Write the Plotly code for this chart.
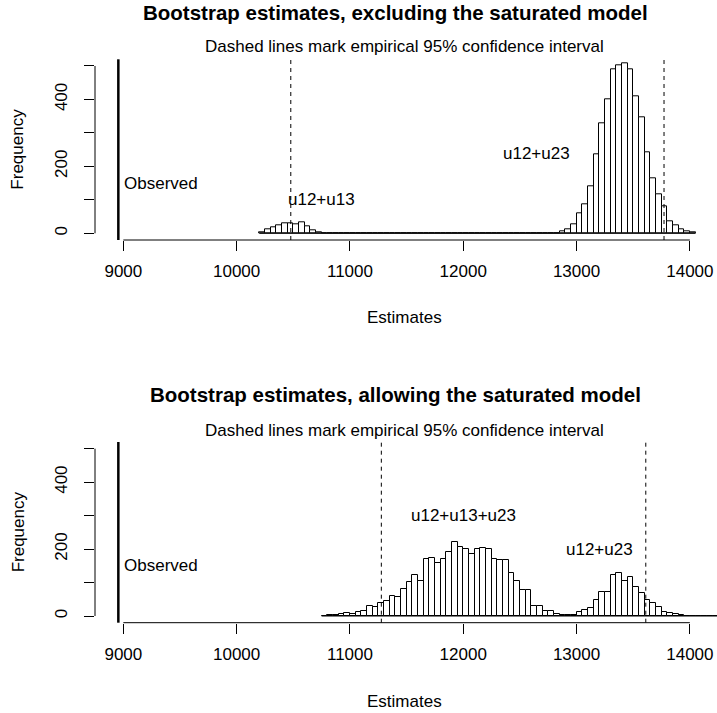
import plotly.graph_objects as go

W, H = 717, 713
BIN_WIDTH = 50

# Bootstrap counts per 50-unit bin, excluding the saturated model
excl_start = 10200
excl_counts = [
    4, 11, 18, 25, 29, 31, 28, 34, 21, 9, 3,
    0, 0, 0, 0, 0, 0, 0, 0, 0, 0, 0, 0, 0, 0, 0, 0, 0, 0, 0, 0, 0,
    0, 0, 0, 0, 0, 0, 0, 0, 0, 0, 0, 0, 0, 0, 0, 0, 0, 0, 0, 0, 0,
    7, 13, 27, 59, 86, 140, 236, 330, 399, 489, 502, 508,
    489, 408, 347, 241, 164, 117, 80, 35, 24, 13, 6, 3,
]

# Bootstrap counts per 50-unit bin, allowing the saturated model
allow_start = 10750
allow_counts = [
    1, 2, 3, 5, 8, 5, 12, 15, 29, 27,
    40, 46, 60, 57, 81, 102, 123, 106, 170, 172,
    159, 170, 191, 221, 205, 199, 184, 199, 202, 200,
    171, 167, 166, 130, 106, 78, 79, 31, 31, 15,
    14, 6, 2, 3, 4, 13, 19, 23, 48, 71,
    71, 122, 130, 105, 118, 86, 70, 49, 38, 28,
    13, 10, 5, 2, 1, 0, 0, 0, 0, 0,
]

observed = 8956
excl_ci = [10478, 13772]
allow_ci = [11277, 13611]

x_ticks = [9000, 10000, 11000, 12000, 13000, 14000]
y_ticks = [0, 100, 200, 300, 400, 500]
y_ticktext = ["0", "", "200", "", "400", ""]

excl_labels = [("u12+u13", 10750, 100), ("u12+u23", 12650, 240)]
allow_labels = [("u12+u13+u23", 12000, 300), ("u12+u23", 13200, 200)]

FONT = "Liberation Sans, Arial, Helvetica, sans-serif"
FS = 17

# pixel geometry of the two plot regions
PLOT_L, PLOT_R = 95, 717
X_RANGE = [8750, 14239.5]
Y_RANGE = [-20, 520]
panels = [
    dict(start=excl_start, counts=excl_counts, ci=excl_ci, labels=excl_labels,
         title="Bootstrap estimates, excluding the saturated model",
         top=59.3, bottom=240.0, title_y=12, sub_y=47, tick_y=268, xlab_y=318),
    dict(start=allow_start, counts=allow_counts, ci=allow_ci, labels=allow_labels,
         title="Bootstrap estimates, allowing the saturated model",
         top=442.0, bottom=622.7, title_y=395, sub_y=430, tick_y=651, xlab_y=701),
]


def py(p):
    return 1 - p / H


def px(p):
    return p / W


fig = go.Figure()
shapes = []
annotations = []
layout_axes = {}

for i, pnl in enumerate(panels):
    n = i + 1
    xa = "x" if n == 1 else f"x{n}"
    ya = "y" if n == 1 else f"y{n}"
    edges = [pnl["start"] + BIN_WIDTH * k for k in range(len(pnl["counts"]) + 1)]
    centers = [e + BIN_WIDTH / 2 for e in edges[:-1]]

    fig.add_trace(go.Bar(
        x=centers, y=pnl["counts"], width=BIN_WIDTH,
        marker=dict(color="white", line=dict(color="black", width=1)),
        xaxis=xa, yaxis=ya, showlegend=False, hoverinfo="skip",
    ))
    # baseline of the bins (empty bins show as a flat line)
    fig.add_trace(go.Scatter(
        x=[edges[0], edges[-1]], y=[0, 0], mode="lines",
        line=dict(color="black", width=1),
        xaxis=xa, yaxis=ya, showlegend=False, hoverinfo="skip",
    ))

    dom_y = [py(pnl["bottom"]), py(pnl["top"])]
    layout_axes["xaxis" if n == 1 else f"xaxis{n}"] = dict(
        domain=[px(PLOT_L), px(PLOT_R)], range=X_RANGE, anchor=ya,
        tickvals=x_ticks, ticktext=[str(v) for v in x_ticks],
        ticks="outside", ticklen=10, tickwidth=1, tickcolor="black",
        showline=False, showgrid=False, zeroline=False,
        tickfont=dict(family=FONT, size=FS, color="black"),
        ticklabelstandoff=6,
    )
    layout_axes["yaxis" if n == 1 else f"yaxis{n}"] = dict(
        domain=dom_y, range=Y_RANGE, anchor=xa,
        tickvals=y_ticks, ticktext=y_ticktext, tickangle=-90,
        ticks="outside", ticklen=10, tickwidth=1, tickcolor="black",
        showline=False, showgrid=False, zeroline=False,
        tickfont=dict(family=FONT, size=FS, color="black"),
        ticklabelstandoff=10,
    )

    xref = xa
    yref = ya
    # axis lines spanning the tick range only
    shapes.append(dict(type="line", xref=f"{xa} domain", yref=yref,
                       x0=0, x1=0, y0=y_ticks[0], y1=y_ticks[-1],
                       line=dict(color="black", width=1)))
    shapes.append(dict(type="line", xref=xref, yref=f"{ya} domain",
                       x0=x_ticks[0], x1=x_ticks[-1], y0=0, y1=0,
                       line=dict(color="black", width=1)))
    # observed value
    shapes.append(dict(type="line", xref=xref, yref=f"{ya} domain",
                       x0=observed, x1=observed, y0=0, y1=1,
                       line=dict(color="black", width=2.5)))
    # empirical 95% interval
    for q in pnl["ci"]:
        shapes.append(dict(type="line", xref=xref, yref=f"{ya} domain",
                           x0=q, x1=q, y0=0, y1=1,
                           line=dict(color="black", width=1, dash="4px,4px")))

    annotations.append(dict(x=observed, y=150, xref=xref, yref=yref,
                            text="Observed", showarrow=False, xanchor="left",
                            yanchor="middle", xshift=4,
                            font=dict(family=FONT, size=FS, color="black")))
    for txt, lx, ly in pnl["labels"]:
        annotations.append(dict(x=lx, y=ly, xref=xref, yref=yref, text=txt,
                                showarrow=False, xanchor="center", yanchor="middle",
                                font=dict(family=FONT, size=FS, color="black")))

    cx = px(404)
    annotations.append(dict(x=px(395), y=py(pnl["title_y"]), xref="paper", yref="paper",
                            text="<b>" + pnl["title"] + "</b>", showarrow=False,
                            xanchor="center", yanchor="middle",
                            font=dict(family=FONT, size=20.5, color="black")))
    annotations.append(dict(x=cx, y=py(pnl["sub_y"]), xref="paper", yref="paper",
                            text="Dashed lines mark empirical 95% confidence interval",
                            showarrow=False, xanchor="center", yanchor="middle",
                            font=dict(family=FONT, size=FS, color="black")))
    annotations.append(dict(x=cx, y=py(pnl["xlab_y"]), xref="paper", yref="paper",
                            text="Estimates", showarrow=False,
                            xanchor="center", yanchor="middle",
                            font=dict(family=FONT, size=FS, color="black")))
    annotations.append(dict(x=px(18), y=py((pnl["top"] + pnl["bottom"]) / 2),
                            xref="paper", yref="paper", text="Frequency",
                            showarrow=False, textangle=-90,
                            xanchor="center", yanchor="middle",
                            font=dict(family=FONT, size=FS, color="black")))

fig.update_layout(
    width=W, height=H, margin=dict(l=0, r=0, t=0, b=0),
    paper_bgcolor="white", plot_bgcolor="white",
    bargap=0, shapes=shapes, annotations=annotations,
    **layout_axes,
)

fig.write_html("out.html")
